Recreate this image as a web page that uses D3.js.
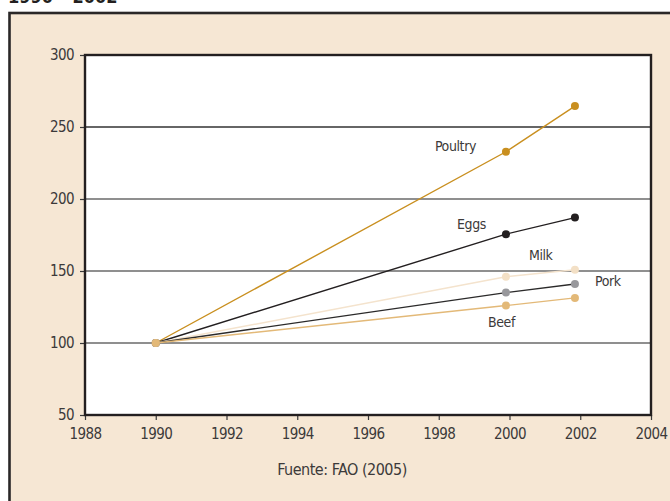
<!DOCTYPE html>
<html>
<head>
<meta charset="utf-8">
<script src="https://d3js.org/d3.v7.min.js"></script>
<style>
  body { margin: 0; background: #fff; }
  svg text { font-family: "DejaVu Sans Condensed", "Roboto", sans-serif; font-stretch: condensed; fill: #3c3a3a; }
</style>
</head>
<body>
<div id="chart"></div>
<script>
// years as they sit on the drawing (points are a touch left of the ticks)
const years = [1990, 1999.9, 2001.85];
const poultry = [100, 232.8, 264.5];
const eggs = [100, 175.6, 187.1];
const milk = [100, 146, 150.9];
const pork = [100, 135, 141];
const beef = [100, 126, 131.3];
const seriesNames = ["Poultry", "Eggs", "Milk", "Pork", "Beef"];
const xTicks = [1988, 1990, 1992, 1994, 1996, 1998, 2000, 2002, 2004];
const yTicks = [50, 100, 150, 200, 250, 300];
const gridValues = [100, 150, 200, 250];
const subtitle = "1990 – 2002";
const source = "Fuente: FAO (2005)";

const w = 670, h = 501;
const plotLeft = 85, plotRight = 651, plotTop = 55, plotBottom = 415;

// style per series: line colour, dot colour, label anchor point, offset
const styles = {
  Poultry: { line: "#c98f1f", dot: "#c98f1f", at: 1, dx: -30, dy: -1, anchor: "end" },
  Eggs:    { line: "#231f20", dot: "#231f20", at: 1, dx: -20, dy: -5, anchor: "end" },
  Milk:    { line: "#f4e3cd", dot: "#f3e0c6", at: 1, dx: 23, dy: -17, anchor: "start" },
  Pork:    { line: "#2b2a2a", dot: "#98989c", at: 2, dx: 20, dy: 2, anchor: "start" },
  Beef:    { line: "#e3b978", dot: "#e3b978", at: 1, dx: -18, dy: 21, anchor: "start" }
};
const values = { Poultry: poultry, Eggs: eggs, Milk: milk, Pork: pork, Beef: beef };

const svg = d3.select("#chart").append("svg")
  .attr("width", w)
  .attr("height", h);

// subtitle, mostly cut off at top edge
svg.append("text")
  .attr("x", 8)
  .attr("y", 3)
  .style("font-size", "18px")
  .style("font-weight", "bold")
  .style("fill", "#231f20")
  .text(subtitle);

// beige frame
svg.append("rect")
  .attr("x", 9.5).attr("y", 13)
  .attr("width", 700).attr("height", 520)
  .attr("fill", "#f6e7d4")
  .attr("stroke", "#2a2727")
  .attr("stroke-width", 2.6);

const x = d3.scaleLinear().domain([1988, 2004]).range([plotLeft, plotRight]);
const y = d3.scaleLinear().domain([50, 300]).range([plotBottom, plotTop]);

svg.append("rect")
  .attr("x", plotLeft).attr("y", plotTop)
  .attr("width", plotRight - plotLeft).attr("height", plotBottom - plotTop)
  .attr("fill", "#fff");

// grid lines
svg.selectAll(".grid")
  .data(gridValues)
  .enter().append("line")
  .attr("x1", plotLeft).attr("x2", plotRight)
  .attr("y1", d => y(d)).attr("y2", d => y(d))
  .attr("stroke", d => d == 250 ? "#333" : "#6a6a6a")
  .attr("stroke-width", 1.3);

// axes
const xAxis = d3.axisBottom(x).tickValues(xTicks).tickFormat(d3.format("d")).tickSize(5).tickPadding(8);
const yAxis = d3.axisLeft(y).tickValues(yTicks).tickSize(5).tickPadding(6);

const gx = svg.append("g")
  .attr("transform", "translate(0," + plotBottom + ")")
  .call(xAxis);
const gy = svg.append("g")
  .attr("transform", "translate(" + plotLeft + ",0)")
  .call(yAxis);

[gx, gy].forEach(g => {
  g.select(".domain").remove();
  g.selectAll("line").attr("stroke", "#3a3a3a").attr("stroke-width", 1.2);
  g.selectAll("text").style("font-size", "15px").style("fill", "#3c3a3a")
    .style("letter-spacing", "-0.6px")
    .style("font-family", null);
});

// plot frame
svg.append("rect")
  .attr("x", plotLeft).attr("y", plotTop)
  .attr("width", plotRight - plotLeft).attr("height", plotBottom - plotTop)
  .attr("fill", "none")
  .attr("stroke", "#231f20")
  .attr("stroke-width", 2.4);

const line = d3.line()
  .x((d, i) => x(years[i]))
  .y(d => y(d));

seriesNames.forEach(name => {
  const s = styles[name];
  const vals = values[name];
  svg.append("path")
    .attr("d", line(vals))
    .attr("fill", "none")
    .attr("stroke", s.line)
    .attr("stroke-width", 1.4);
  svg.selectAll(".dot-" + name)
    .data(vals)
    .enter().append("circle")
    .attr("cx", (d, i) => x(years[i]))
    .attr("cy", d => y(d))
    .attr("r", 4)
    .attr("fill", s.dot);
  svg.append("text")
    .attr("x", x(years[s.at]) + s.dx)
    .attr("y", y(vals[s.at]) + s.dy)
    .attr("text-anchor", s.anchor)
    .style("font-size", "14px")
    .style("letter-spacing", "-0.4px")
    .text(name);
});

svg.append("text")
  .attr("x", 342)
  .attr("y", 475)
  .attr("text-anchor", "middle")
  .style("font-size", "16px")
  .style("letter-spacing", "-0.5px")
  .text(source);
</script>
</body>
</html>
